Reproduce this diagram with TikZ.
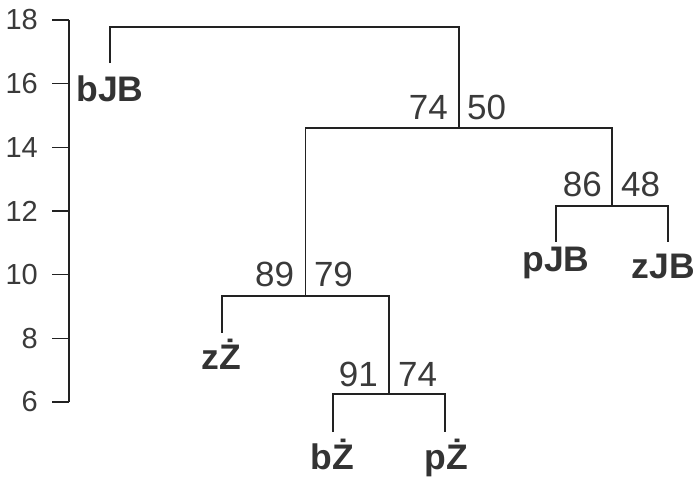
\documentclass[tikz,border=0pt]{standalone}
\usepackage{fontspec}
\setmainfont{Liberation Sans}
\definecolor{ln}{HTML}{222222}
\definecolor{tx}{HTML}{3A3A3A}
\definecolor{lbl}{HTML}{333333}
\begin{document}
\begin{tikzpicture}[x=1pt,y=-1pt,
  br/.style={draw=ln,line width=1.6pt},
  lf/.style={anchor=base,inner sep=0pt,font=\fontsize{35.5}{35.5}\selectfont\bfseries,text=lbl},
  bsl/.style={anchor=base east,inner sep=0pt,font=\fontsize{35}{35}\selectfont,text=tx},
  bsr/.style={anchor=base west,inner sep=0pt,font=\fontsize{35}{35}\selectfont,text=tx},
  tk/.style={anchor=east,inner sep=0pt,font=\fontsize{29}{29}\selectfont,text=tx}]
\useasboundingbox (0,0) rectangle (696,477);
% axis
\coordinate (atop) at (69,20);
\coordinate (abot) at (69,402);
\draw[br] (atop) -- (abot);
\foreach \v/\y in {18/20,16/83.67,14/147.33,12/211,10/274.67,8/338.33,6/402}{
  \coordinate (tk\v) at (69,\y);
  \draw[br] (tk\v) -- ++(-17,0);
  \node[tk] (tl\v) at (38,\y) {\v};
}
% leaves and internal nodes
\coordinate (L1) at (110,63);
\coordinate (L2) at (221.7,332.7);
\coordinate (L3) at (333,432);
\coordinate (L4) at (445,432);
\coordinate (L5) at (556,241.7);
\coordinate (L6) at (667.7,241.7);
\coordinate (N4) at (389,394);
\coordinate (N3) at (305.3,295.7);
\coordinate (N2) at (612,205.7);
\coordinate (N1) at (459,127.7);
\coordinate (R) at (284.7,26.7);
% branches
\draw[br] (L1) -- (L1 |- R) -- (N1 |- R) -- (N1);
\draw[br] (N3) -- (N3 |- N1) -- (N2 |- N1) -- (N2);
\draw[br] (L5) -- (L5 |- N2) -- (L6 |- N2) -- (L6);
\draw[br] (L2) -- (L2 |- N3) -- (N4 |- N3) -- (N4);
\draw[br] (L3) -- (L3 |- N4) -- (L4 |- N4) -- (L4);
% leaf labels
\node[lf] (bJB) at (110,101.7) {bJB};
\node[lf] (zZ) at (221.7,369) {zŻ};
\node[lf] (bZ) at (332,469) {bŻ};
\node[lf] (pZ) at (446,469) {pŻ};
\node[lf] (pJB) at (556,271.7) {pJB};
\node[lf] (zJB) at (663.5,278) {zJB};
% support values
\node[bsl] (s1l) at ([shift={(-11,-8.5)}]N1) {74};
\node[bsr] (s1r) at ([shift={(8,-8.5)}]N1) {50};
\node[bsl] (s2l) at ([shift={(-10,-9)}]N2) {86};
\node[bsr] (s2r) at ([shift={(9,-9)}]N2) {48};
\node[bsl] (s3l) at ([shift={(-11,-9)}]N3) {89};
\node[bsr] (s3r) at ([shift={(8.5,-9)}]N3) {79};
\node[bsl] (s4l) at ([shift={(-11,-7.5)}]N4) {91};
\node[bsr] (s4r) at ([shift={(9,-7.5)}]N4) {74};
\end{tikzpicture}
\end{document}
